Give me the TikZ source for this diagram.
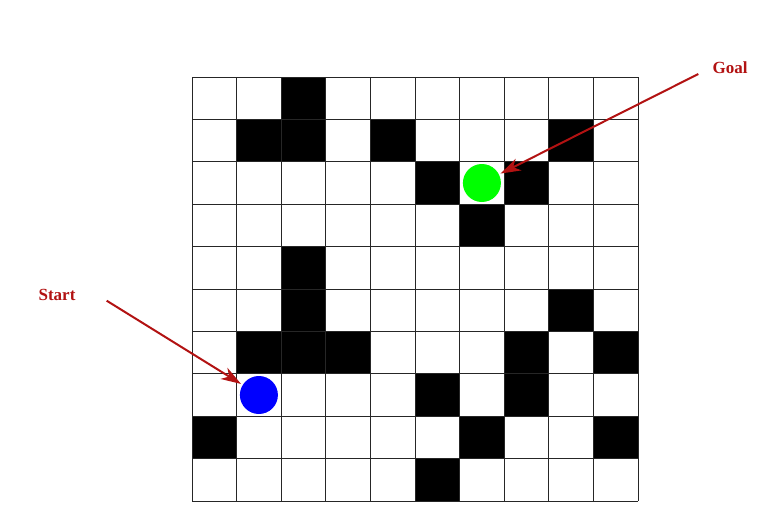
\documentclass[tikz,border=0pt]{standalone}
\usepackage{fontspec}
\setmainfont{Liberation Serif}
\usetikzlibrary{arrows.meta}
\definecolor{arrowred}{RGB}{178,18,18}

\begin{document}
\begin{tikzpicture}[
       x=1pt, y=-1pt,
       gridline/.style={line width=1pt, black!85},
       wall/.style={fill=black},
       marker/.style={
         circle,
         inner sep=0pt,
         outer sep=2pt,
         minimum size=38pt
       },
       tag/.style={text=arrowred, font=\fontsize{17}{19}\selectfont\bfseries},
       pointer/.style={arrowred, line width=2pt, -{Stealth[length=20pt,width=13pt,inset=6pt]}}
     ]
\useasboundingbox (0,0) rectangle (771,517);

% walls
\foreach \c/\r in {2/0,1/1,2/1,4/1,8/1,5/2,7/2,6/3,2/4,2/5,8/5,1/6,2/6,3/6,7/6,9/6,5/7,7/7,0/8,6/8,9/8,5/9}
  \fill[wall] (192+44.6*\c, 77+42.4*\r) rectangle ++(44.6,42.4);

% grid
\foreach \i in {0,...,10} {
  \draw[gridline] (192+44.6*\i, 77) -- (192+44.6*\i, 501);
  \draw[gridline] (192, 77+42.4*\i) -- (638, 77+42.4*\i);
}

\node[marker,fill=blue] (start) at (258.9,395) {};
\node[marker,fill=green] (goal) at (481.9,183) {};

\node[tag] (startlabel) at (57,295) {Start};
\node[tag] (goallabel) at (730,68) {Goal};

\coordinate (starttail) at (106.7,300.7);
\coordinate (goaltail) at (698.3,74);

\draw[pointer] (starttail) -- (start);
\draw[pointer] (goaltail) -- (goal);

\end{tikzpicture}
\end{document}
